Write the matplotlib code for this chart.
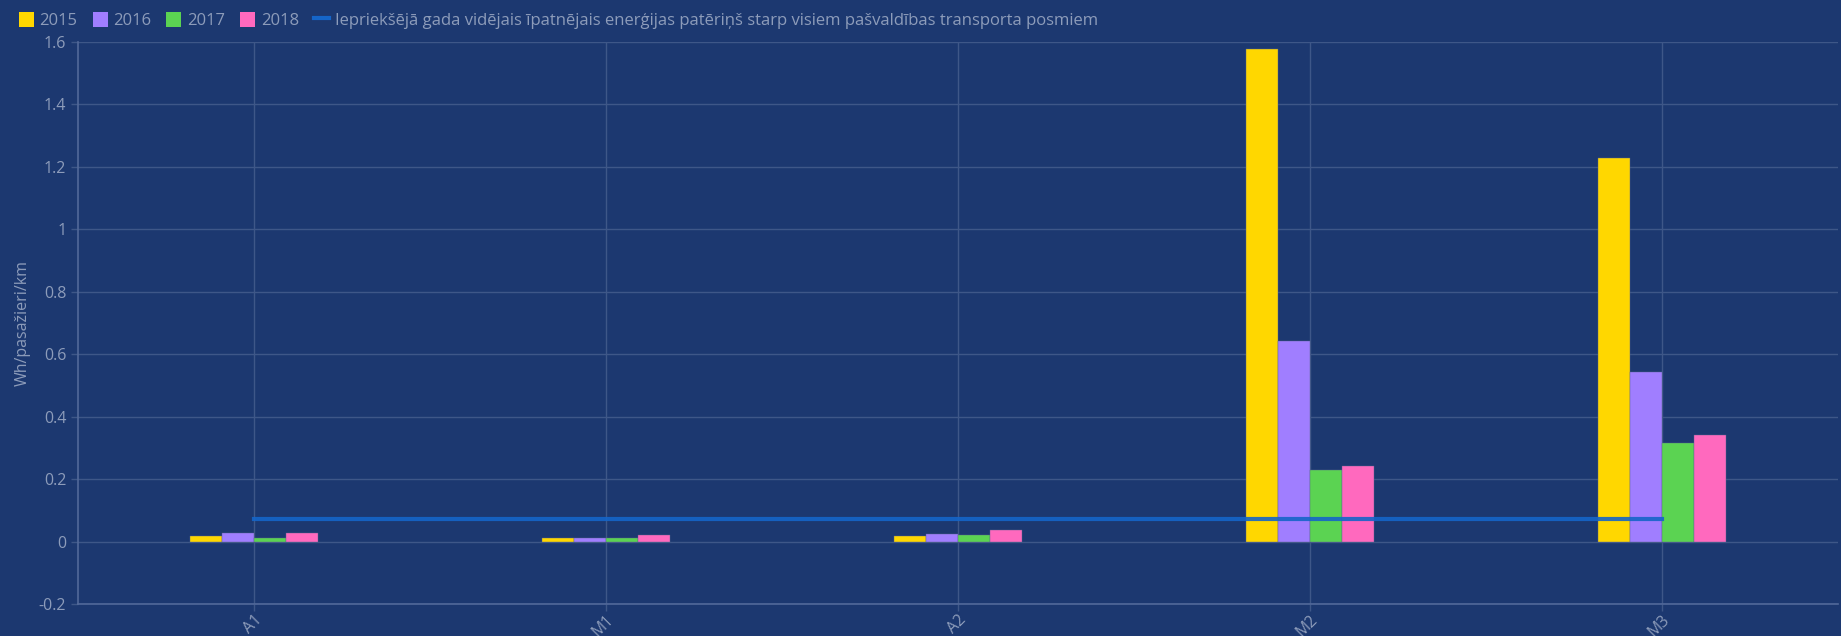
import matplotlib
matplotlib.use("Agg")
import matplotlib.pyplot as plt
from matplotlib.patches import Patch
from matplotlib.lines import Line2D
import numpy as np

plt.rcParams['font.family'] = ['Open Sans', 'DejaVu Sans']

categories = ["A1", "M1", "A2", "M2", "M3"]
years = ["2015", "2016", "2017", "2018"]
v2015 = [0.019, 0.013, 0.017, 1.578, 1.228]
v2016 = [0.029, 0.013, 0.025, 0.641, 0.543]
v2017 = [0.013, 0.013, 0.021, 0.228, 0.315]
v2018 = [0.029, 0.020, 0.037, 0.243, 0.340]
avg_value = 0.072
avg_label = "Iepriekšējā gada vidējais īpatnējais enerģijas patēriņš starp visiem pašvaldības transporta posmiem"
y_label = "Wh/pasažieri/km"
y_ticks = [-0.2, 0, 0.2, 0.4, 0.6, 0.8, 1, 1.2, 1.4, 1.6]
y_tick_labels = ["-0.2", "0", "0.2", "0.4", "0.6", "0.8", "1", "1.2", "1.4", "1.6"]

bg = "#1c3870"
grid_c = "#3e5788"
text_c = "#8d9cba"
colors = ["#ffd700", "#a07eff", "#5bd352", "#ff69be"]
line_c = "#1565c8"

fig = plt.figure(figsize=(18.41, 6.36), dpi=100, facecolor=bg)
ax = fig.add_axes([0.0424, 0.0503, 0.9560, 0.8837], facecolor=bg)

x = np.arange(len(categories))
w = 0.0909
series = [v2015, v2016, v2017, v2018]
for i, (vals, c) in enumerate(zip(series, colors)):
    ax.bar(x + (i - 1.5) * w, vals, width=w, color=c, edgecolor="#5a6590",
           linewidth=0.3, zorder=3)

ax.plot([x[0], x[-1]], [avg_value, avg_value], color=line_c, linewidth=3,
        alpha=0.9, zorder=4)

ax.set_xlim(-0.5, len(categories) - 0.5)
ax.set_ylim(-0.2, 1.6)
ax.set_yticks(y_ticks)
ax.set_yticklabels(y_tick_labels)
ax.set_xticks(x)
ax.set_xticklabels(categories, rotation=45, ha="right", rotation_mode="anchor")

ax.grid(True, color=grid_c, linewidth=1, zorder=0)
for s in ["top", "right"]:
    ax.spines[s].set_visible(False)
for s in ["left", "bottom"]:
    ax.spines[s].set_color("#52699a")
    ax.spines[s].set_linewidth(1.2)
ax.tick_params(axis="both", colors=grid_c, labelcolor=text_c, labelsize=11.5,
               length=5, width=1)
ax.tick_params(axis="x", pad=1)
ax.set_ylabel(y_label, color=text_c, fontsize=11.5)
ax.yaxis.set_label_coords(-0.027, 0.5)

handles = [Patch(facecolor=c, edgecolor="none") for c in colors]
handles.append(Line2D([0], [0], color=line_c, linewidth=3))
labels = years + [avg_label]
leg = fig.legend(handles, labels, loc="upper left", bbox_to_anchor=(0.002, 1.005),
                 ncol=5, frameon=False, fontsize=12, handlelength=0.9,
                 handleheight=1.0, handletextpad=0.35, columnspacing=0.9)
for t in leg.get_texts():
    t.set_color(text_c)

fig.savefig("out.png", dpi=100, facecolor=bg)
